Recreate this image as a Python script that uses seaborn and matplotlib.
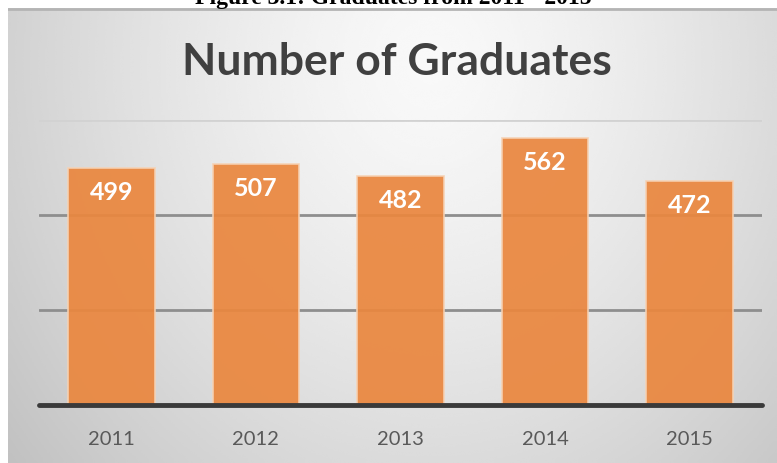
import numpy as np
import pandas as pd
import matplotlib
matplotlib.use("Agg")
import matplotlib.pyplot as plt
import seaborn as sns

# Chart data
years = ["2011", "2012", "2013", "2014", "2015"]
graduates = [499, 507, 482, 562, 472]
gridline_values = [200, 400, 600]

chart_title = "Number of Graduates"
caption = "Figure 3.1: Graduates from 2011 - 2015"

sns.set_theme(style="white")
plt.rcParams["font.family"] = ["Lato", "DejaVu Sans"]

W, H = 777, 463
fig = plt.figure(figsize=(W / 100, H / 100), dpi=100)
fig.patch.set_facecolor("white")

# Caption above the chart panel (partly cut off by the page edge)
fig.text(393 / W, 1 - 4 / H, caption, ha="center", va="baseline",
         fontsize=17, fontweight="bold", family="Liberation Serif", color="black")

# Panel with soft radial gray gradient
bg = fig.add_axes([8 / W, 0, (W - 8) / W, (H - 8) / H])
gx, gy = np.meshgrid(np.linspace(0, 1, 400), np.linspace(0, 1, 240))
r = np.sqrt(((gx - 0.55) / 0.62) ** 2 + ((gy - 0.12) / 1.2) ** 2)
shade = np.clip(0.975 - 0.18 * r ** 1.4, 0, 1)
bg.imshow(shade, cmap="gray", vmin=0, vmax=1, aspect="auto",
          extent=[0, 1, 1, 0], interpolation="bicubic")
bg.set_xlim(0, 1)
bg.set_ylim(1, 0)
bg.axhline(0.002, color="#B4B4B4", lw=2)
bg.axis("off")

# Plot area
left, right = 39 / W, 762 / W
bottom, top = (H - 405) / H, (H - 120) / H
ax = fig.add_axes([left, bottom, right - left, top - bottom])
ax.patch.set_alpha(0)

df = pd.DataFrame({"year": years, "graduates": graduates})

for v in gridline_values:
    col = "#D2D2D2" if v == gridline_values[-1] else "#8E8E8E"
    ax.axhline(v, color=col, lw=2, zorder=0)

sns.barplot(data=df, x="year", y="graduates", color="#EA873F", width=0.6,
            saturation=1, alpha=0.93, edgecolor="#F6D2B4", linewidth=1.2,
            ax=ax, zorder=2)

ax.axhline(0, color="#3A3A3A", lw=3.5, zorder=3, clip_on=False)

for i, v in enumerate(graduates):
    ax.text(i, v - 52, str(v), ha="center", va="center", color="white",
            fontsize=18, fontweight="bold", zorder=4)

ax.set_ylim(0, 600)
ax.set_xlim(-0.5, len(years) - 0.5)
ax.set_yticks([])
ax.set_xlabel("")
ax.set_ylabel("")
ax.tick_params(axis="x", length=0, pad=19, labelsize=14.5, labelcolor="#595959")
for s in ax.spines.values():
    s.set_visible(False)

fig.text(397 / W, 1 - 62 / H, chart_title, ha="center", va="center",
         fontsize=32, fontweight="bold", color="#404040")

fig.savefig("out.png", dpi=100)
